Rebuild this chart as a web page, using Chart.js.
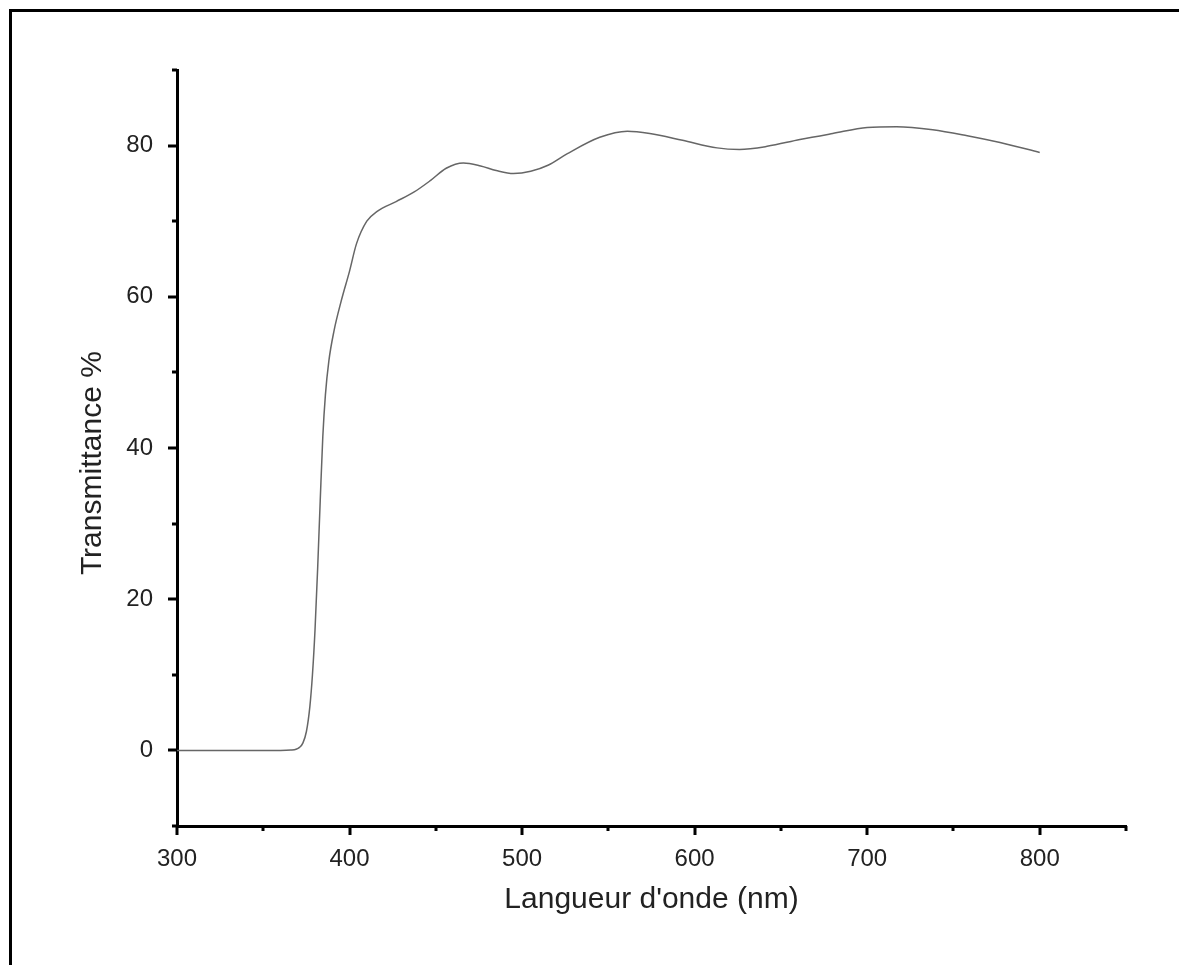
<!DOCTYPE html>
<html>
<head>
<meta charset="utf-8">
<script src="https://cdn.jsdelivr.net/npm/chart.js@4.4.1/dist/chart.umd.min.js"></script>
<style>
body { margin: 0; background: #fff; }
#wrap { position: relative; width: 1179px; height: 965px; overflow: hidden; background: #fff; }
#frame { position: absolute; left: 9px; top: 9px; width: 1300px; height: 1100px; border-top: 3px solid #000; border-left: 3px solid #000; box-sizing: border-box; }
canvas { position: absolute; left: 0; top: 0; }
</style>
</head>
<body>
<div id="wrap">
  <div id="frame"></div>
  <canvas id="chart" width="1179" height="965"></canvas>
</div>
<script>
// wavelength (nm) and transmittance (%)
var wavelength = [300, 340, 360, 366, 369, 371, 373, 375, 377, 378.5, 380, 381.5, 383, 384.5, 386, 388, 391, 395,
  400, 404, 410, 416, 427, 437, 447, 456, 466, 476, 485, 495, 505, 515, 526, 545, 561, 574, 593, 613, 626, 642,
  661, 680, 700, 717, 738, 758, 777, 800];
var transmittance = [0, 0, 0, 0.05, 0.15, 0.4, 1.0, 2.5, 5.8, 10, 16, 24, 33, 41.5, 47, 51.5, 55.5, 59.3,
  63.4, 67, 70, 71.3, 72.6, 73.8, 75.4, 77, 77.7, 77.3, 76.7, 76.3, 76.6, 77.4, 78.9, 81.1, 81.9, 81.6, 80.7, 79.7, 79.5, 79.9,
  80.8, 81.6, 82.4, 82.5, 82.1, 81.3, 80.4, 79.1];

var xTicks = [300, 400, 500, 600, 700, 800];
var xMinorTicks = [350, 450, 550, 650, 750, 850];
var yTicks = [0, 20, 40, 60, 80];
var yMinorTicks = [-10, 10, 30, 50, 70, 90];

var points = wavelength.map(function(w, i){ return {x: w, y: transmittance[i]}; });

var fontFamily = '"Liberation Sans", Arial, Helvetica, sans-serif';

// outward tick marks, long for major and short for minor, plus the y title
var tickMarks = {
  id: 'tickMarks',
  afterDraw: function(chart){
    var ctx = chart.ctx;
    var area = chart.chartArea;
    var xs = chart.scales.x, ys = chart.scales.y;
    ctx.save();
    ctx.strokeStyle = '#000';
    ctx.lineWidth = 3;
    ctx.beginPath();
    xTicks.forEach(function(v){
      var p = Math.round(xs.getPixelForValue(v));
      ctx.moveTo(p, area.bottom); ctx.lineTo(p, area.bottom + 9);
    });
    xMinorTicks.forEach(function(v){
      var p = Math.round(xs.getPixelForValue(v));
      ctx.moveTo(p, area.bottom); ctx.lineTo(p, area.bottom + 5);
    });
    yTicks.forEach(function(v){
      var p = Math.round(ys.getPixelForValue(v));
      ctx.moveTo(area.left, p); ctx.lineTo(area.left - 9, p);
    });
    yMinorTicks.forEach(function(v){
      var p = Math.round(ys.getPixelForValue(v));
      ctx.moveTo(area.left, p); ctx.lineTo(area.left - 5, p);
    });
    ctx.stroke();

    // y title, sits a little below the middle of the axis
    ctx.translate(93, ys.getPixelForValue(38));
    ctx.rotate(-Math.PI / 2);
    ctx.fillStyle = '#222';
    ctx.font = '30px ' + fontFamily;
    ctx.textAlign = 'center';
    ctx.textBaseline = 'middle';
    ctx.fillText('Transmittance %', 0, 0);
    ctx.restore();
  }
};

new Chart(document.getElementById('chart'), {
  type: 'line',
  data: {
    datasets: [{
      data: points,
      borderColor: '#666',
      borderWidth: 1.5,
      pointRadius: 0,
      fill: false,
      cubicInterpolationMode: 'monotone'
    }]
  },
  options: {
    responsive: false,
    animation: false,
    devicePixelRatio: 1,
    layout: { padding: { left: 0, top: 70, right: 53, bottom: 0 } },
    plugins: { legend: { display: false }, tooltip: { enabled: false } },
    scales: {
      x: {
        type: 'linear',
        min: 300,
        max: 850,
        afterFit: function(scale){ scale.height = 139; },
        afterBuildTicks: function(scale){ scale.ticks = xTicks.map(function(v){ return {value: v}; }); },
        grid: { display: false, drawTicks: false },
        border: { display: true, color: '#000', width: 3 },
        ticks: { padding: 19, color: '#222', font: { family: fontFamily, size: 24 }, maxRotation: 0 },
        title: { display: true, text: "Langueur d'onde (nm)", color: '#222', font: { family: fontFamily, size: 30 }, padding: { top: 0, bottom: 47 } }
      },
      y: {
        type: 'linear',
        min: -10,
        max: 90,
        afterFit: function(scale){ scale.width = 177; },
        afterBuildTicks: function(scale){ scale.ticks = yTicks.map(function(v){ return {value: v}; }); },
        grid: { display: false, drawTicks: false },
        border: { display: true, color: '#000', width: 3 },
        ticks: { padding: 24, color: '#222', font: { family: fontFamily, size: 24 } },
        title: { display: false }
      }
    }
  },
  plugins: [tickMarks]
});
</script>
</body>
</html>
